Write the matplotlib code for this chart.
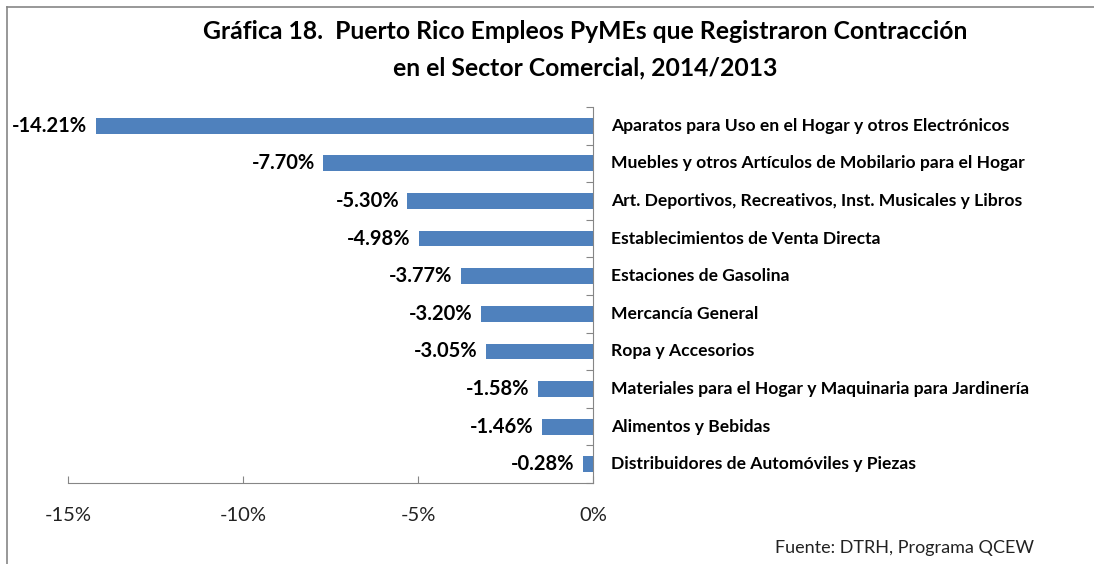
import matplotlib.pyplot as plt
from matplotlib.ticker import FuncFormatter
from matplotlib.lines import Line2D

plt.rcParams['font.family'] = ['Lato', 'DejaVu Sans']

# Datos: contracción de empleos PyMEs, sector comercial 2014/2013
categorias = [
    'Aparatos para Uso en el Hogar y otros Electrónicos',
    'Muebles y otros Artículos de Mobilario para el Hogar',
    'Art. Deportivos, Recreativos, Inst. Musicales y Libros',
    'Establecimientos de Venta Directa',
    'Estaciones de Gasolina',
    'Mercancía General',
    'Ropa y Accesorios',
    'Materiales para el Hogar y Maquinaria para Jardinería',
    'Alimentos y Bebidas',
    'Distribuidores de Automóviles y Piezas',
]
valores = [-14.21, -7.70, -5.30, -4.98, -3.77, -3.20, -3.05, -1.58, -1.46, -0.28]
ticks_x = [-15, -10, -5, 0]

azul = '#4F81BD'
gris = '#868686'

fig = plt.figure(figsize=(10.94, 5.64), dpi=100)
ax = fig.add_axes([0.0622, 0.1436, 0.4798, 0.6667])

pos = list(range(len(categorias)))
ax.barh(pos, valores, height=0.42, color=azul)
ax.set_ylim(len(categorias) - 0.5, -0.5)
ax.set_xlim(-15, 0)

# etiquetas de valor
for p, v in zip(pos, valores):
    ax.annotate(f'{v:.2f}%', xy=(v, p), xytext=(-6, 0), textcoords='offset points',
                ha='right', va='center', fontsize=14.5, fontweight='bold', color='black')

# etiquetas de categoría a la derecha del eje
for p, c in zip(pos, categorias):
    ax.annotate(c, xy=(0, p), xytext=(13, 0), textcoords='offset points',
                ha='left', va='center', fontsize=12.6, fontweight='bold', color='black')

for s in ['top', 'left']:
    ax.spines[s].set_visible(False)
ax.spines['right'].set_position(('data', 0))
ax.spines['right'].set_color(gris)
ax.spines['bottom'].set_color(gris)

ax.set_xticks(ticks_x)
ax.xaxis.set_major_formatter(FuncFormatter(lambda x, _: f'{x:.0f}%'))
ax.tick_params(axis='x', direction='in', length=5, color=gris, labelsize=14.5,
               labelcolor='#222222', pad=17)
ax.set_yticks([i + 0.5 for i in range(-1, len(categorias))])
ax.yaxis.set_ticks_position('right')
ax.tick_params(axis='y', direction='in', length=5, color=gris, labelright=False, labelleft=False)

fig.text(0.535, 0.945, 'Gráfica 18.  Puerto Rico Empleos PyMEs que Registraron Contracción',
         ha='center', va='center', fontsize=17.8, fontweight='bold')
fig.text(0.535, 0.88, 'en el Sector Comercial, 2014/2013',
         ha='center', va='center', fontsize=17.8, fontweight='bold')
fig.text(0.945, 0.028, 'Fuente: DTRH, Programa QCEW', ha='right', va='center',
         fontsize=13, color='#222222')

# borde superior e izquierdo
fig.add_artist(Line2D([0.0064, 1.0], [0.9876, 0.9876], transform=fig.transFigure, color=gris, lw=1.2))
fig.add_artist(Line2D([0.0064, 0.0064], [0.0, 0.9876], transform=fig.transFigure, color=gris, lw=1.2))

plt.savefig('out.png', dpi=100)
